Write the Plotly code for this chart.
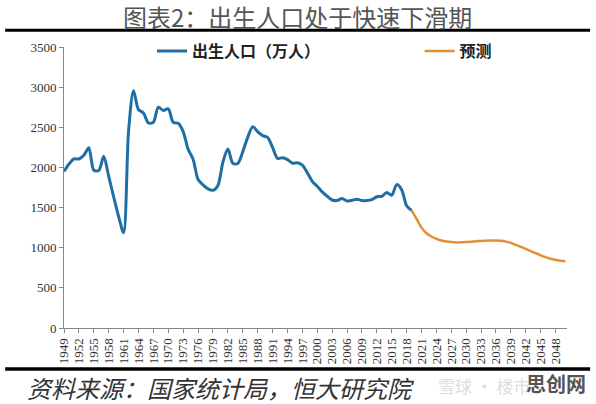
import plotly.graph_objects as go

# 出生人口（万人），国家统计局
hist_years = list(range(1949, 2020))
hist_births = [
    1950, 2042, 2107, 2105, 2151, 2245, 1965, 1961, 2138, 1889,
    1635, 1389, 1187, 2451, 2954, 2721, 2679, 2554, 2563, 2751,
    2710, 2730, 2561, 2550, 2447, 2226, 2102, 1849, 1783, 1733,
    1715, 1776, 2064, 2230, 2052, 2050, 2196, 2374, 2508, 2445,
    2396, 2374, 2250, 2113, 2120, 2098, 2052, 2057, 2028, 1934,
    1827, 1765, 1696, 1641, 1594, 1588, 1612, 1581, 1591, 1604,
    1587, 1588, 1600, 1635, 1640, 1687, 1655, 1786, 1723, 1523,
    1465,
]

# 预测
fcst_years = list(range(2019, 2051))
fcst_births = [
    1465, 1360, 1250, 1180, 1140, 1110, 1090, 1078, 1070, 1066,
    1067, 1070, 1075, 1080, 1084, 1087, 1089, 1089, 1086, 1076,
    1060, 1035, 1010, 985, 958, 932, 905, 882, 862, 848,
    838, 830,
]

tick_years = list(range(1949, 2049, 3))
y_ticks = [0, 500, 1000, 1500, 2000, 2500, 3000, 3500]

BLUE = "#1f6ea6"
ORANGE = "#e58f34"
CJK = "Noto Sans CJK SC"
SERIF = "Liberation Serif"

fig = go.Figure()
fig.add_trace(
    go.Scatter(
        x=hist_years,
        y=hist_births,
        mode="lines",
        name="出生人口（万人）",
        line=dict(color=BLUE, width=3, shape="spline", smoothing=0.8),
        legend="legend",
    )
)
fig.add_trace(
    go.Scatter(
        x=fcst_years,
        y=fcst_births,
        mode="lines",
        name="预测",
        line=dict(color=ORANGE, width=2.5, shape="spline", smoothing=0.8),
        legend="legend2",
    )
)

# heavy rules above and below the chart
fig.add_shape(type="line", xref="paper", yref="paper",
              x0=-0.117, x1=1.046, y0=1.06, y1=1.06,
              line=dict(color="black", width=3))
fig.add_shape(type="line", xref="paper", yref="paper",
              x0=-0.117, x1=1.046, y0=-0.146, y1=-0.146,
              line=dict(color="black", width=3.5))

fig.add_annotation(
    text="图表2：出生人口处于快速下滑期",
    xref="paper", yref="paper", x=0.465, y=1.108,
    showarrow=False, xanchor="center", yanchor="middle",
    font=dict(family=CJK, size=24, color="#555555"),
)
fig.add_annotation(
    text="<i>资料来源：国家统计局，恒大研究院</i>",
    xref="paper", yref="paper", x=-0.078, y=-0.213,
    showarrow=False, xanchor="left", yanchor="middle",
    font=dict(family=CJK, size=24, color="#333333"),
)
fig.add_annotation(
    text="雪球 · 楼市",
    xref="paper", yref="paper", x=0.74, y=-0.205,
    showarrow=False, xanchor="left", yanchor="middle",
    font=dict(family=CJK, size=17, color="#dddddd"),
)
fig.add_annotation(
    text="<b>思创网</b>",
    xref="paper", yref="paper", x=1.042, y=-0.199,
    showarrow=False, xanchor="right", yanchor="middle",
    font=dict(family=CJK, size=20, color="#555555"),
)

legend_font = dict(family=CJK, size=16, color="#222222", weight="bold")
fig.update_layout(
    width=596,
    height=404,
    margin=dict(l=64, r=29, t=47, b=76),
    paper_bgcolor="white",
    plot_bgcolor="white",
    showlegend=True,
    legend=dict(
        orientation="h", x=0.175, y=0.985,
        xanchor="left", yanchor="middle",
        font=legend_font, bgcolor="rgba(0,0,0,0)",
    ),
    legend2=dict(
        orientation="h", x=0.707, y=0.985,
        xanchor="left", yanchor="middle",
        font=legend_font, bgcolor="rgba(0,0,0,0)",
    ),
    xaxis=dict(
        range=[1949, 2050.3],
        tickvals=tick_years,
        ticktext=[str(y) for y in tick_years],
        tickangle=-90,
        ticks="outside",
        ticklen=4,
        tickcolor="#888888",
        showline=True,
        linecolor="#888888",
        linewidth=1,
        showgrid=False,
        zeroline=False,
        tickfont=dict(family=SERIF, size=13, color="#333333"),
    ),
    yaxis=dict(
        range=[0, 3500],
        tickvals=y_ticks,
        ticks="outside",
        ticklen=4,
        tickcolor="#888888",
        showline=True,
        linecolor="#888888",
        linewidth=1,
        showgrid=False,
        zeroline=False,
        tickfont=dict(family=SERIF, size=13, color="#333333"),
    ),
)

fig.write_html(
    "out.html",
    config={"displayModeBar": False},
    post_script="document.body.style.margin='0px';",
)
